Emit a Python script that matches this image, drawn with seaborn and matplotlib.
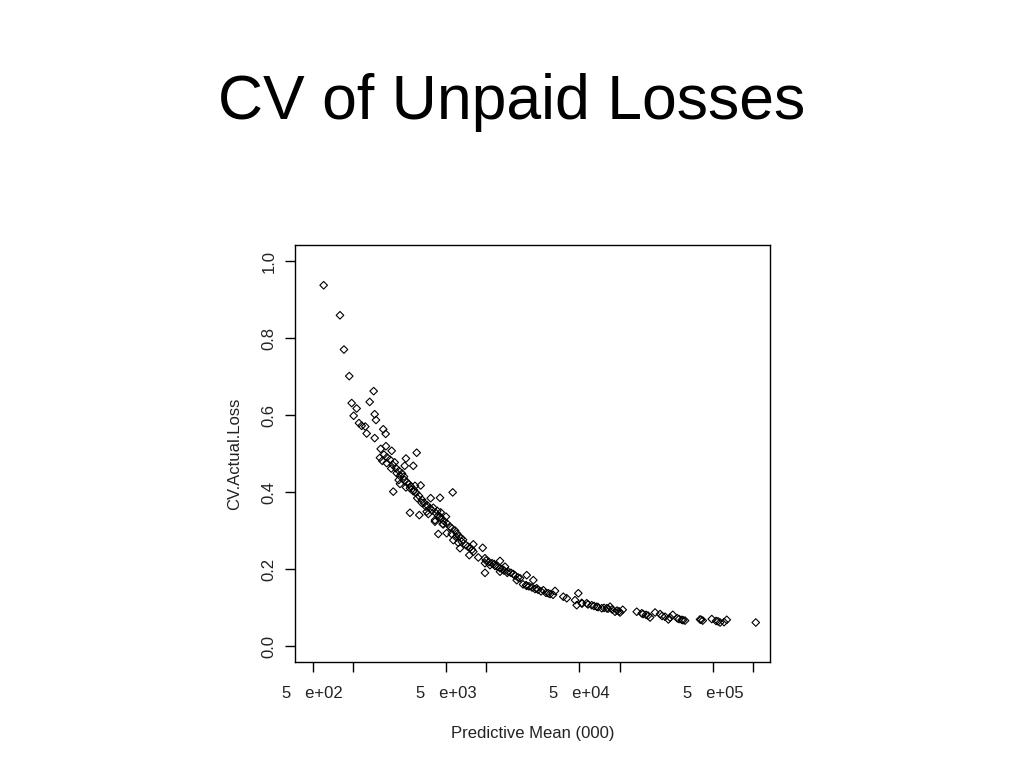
import numpy as np
import pandas as pd
import matplotlib
matplotlib.use("Agg")
import matplotlib.pyplot as plt
import seaborn as sns

# predictive mean (000) and CV of actual loss
pred_mean = [
    603, 799, 856, 938, 978, 1066, 1012, 1430, 1335, 1455, 1488, 1109, 1162, 1237, 1267, 1455, 1688, 1759,
    1768, 1614, 1952, 3005, 1594, 1659, 2498, 2055, 1790, 2443, 2834, 1938, 2128, 2253, 2413, 2203, 2443,
    2253, 2498, 2677, 2918, 3220, 2006, 2834, 3036, 3828, 4496, 5597, 3276, 3529, 4005, 2677, 3144, 3672,
    4291, 4496, 4985, 4124, 4710, 5343, 4366, 5046, 5501,
    3572, 4550, 4124, 4759,
    5655, 6168, 6540, 7989, 9397, 6351, 7457, 7989, 8710, 9778, 12670, 9778, 10660, 11623, 12670, 13813,
    9778, 12670, 14373, 15943, 16908, 20102, 22528, 20102, 23884, 26771, 29185, 32762, 37818, 40107,
    46283, 48996,
    47661, 51951, 56644, 61762, 67334, 73402, 80031, 84723, 92353, 100692, 105500, 134400, 146500,
    157800, 169100, 184400, 201000, 219100, 232000, 250300, 270900, 292300, 309500, 401000, 420200,
    490900, 528800, 566600, 607100, 635900, 1049600,
    5529, 5827, 6031, 6243, 6462, 6689, 5928,
    7043, 7291, 7547, 7811,
    9948, 10478, 11035, 11424, 12032, 13115, 13577, 14548, 15322, 16418, 17292, 17899,
    18857, 19860, 20917, 22028, 23199, 24427, 25728, 28048, 30055, 31650,
    52221, 57931, 64266, 68861, 76380, 81848, 87700, 95608, 98969,
    2542, 2632, 2724, 2869, 2969, 3127, 3293, 3409, 3591, 3782, 3915, 4196, 4343, 4574, 4817, 5072,
    1708, 1799, 1895, 1996, 2102, 2214, 2332,
    149800, 163300, 208000, 238800, 279000, 298900, 408000, 547400,
]
cv_loss = [
    0.937, 0.859, 0.770, 0.701, 0.631, 0.617, 0.598, 0.662, 0.634, 0.602, 0.587, 0.579, 0.572, 0.570, 0.552, 0.540, 0.563, 0.551,
    0.519, 0.512, 0.507, 0.502, 0.489, 0.481, 0.487, 0.477, 0.475, 0.468, 0.468, 0.461, 0.449, 0.442, 0.440, 0.431, 0.431,
    0.421, 0.412, 0.410, 0.416, 0.417, 0.401, 0.402, 0.384, 0.384, 0.385, 0.399, 0.372, 0.362, 0.359, 0.346, 0.340, 0.343,
    0.351, 0.336, 0.336, 0.327, 0.317, 0.310, 0.291, 0.293, 0.291,
    0.349, 0.347, 0.323, 0.316,
    0.275, 0.268, 0.271, 0.264, 0.255, 0.254, 0.236, 0.245, 0.230, 0.228, 0.221, 0.215, 0.210, 0.208, 0.202, 0.206,
    0.190, 0.193, 0.190, 0.187, 0.171, 0.184, 0.171, 0.156, 0.150, 0.145, 0.137, 0.143, 0.128, 0.124,
    0.119, 0.137,
    0.106, 0.112, 0.111, 0.106, 0.102, 0.098, 0.098, 0.102, 0.089, 0.087, 0.094, 0.089, 0.085,
    0.081, 0.074, 0.087, 0.083, 0.076, 0.069, 0.081, 0.072, 0.068, 0.066, 0.069, 0.066,
    0.070, 0.065, 0.061, 0.062, 0.068, 0.061,
    0.305, 0.300, 0.292, 0.285, 0.280, 0.276, 0.283,
    0.262, 0.258, 0.255, 0.250,
    0.222, 0.218, 0.215, 0.213, 0.207, 0.200, 0.196, 0.194, 0.190, 0.183, 0.178, 0.176,
    0.160, 0.158, 0.155, 0.152, 0.148, 0.146, 0.142, 0.138, 0.135, 0.133,
    0.110, 0.108, 0.104, 0.101, 0.099, 0.097, 0.095, 0.092, 0.090,
    0.425, 0.420, 0.414, 0.405, 0.398, 0.390, 0.380, 0.372, 0.366, 0.358, 0.352, 0.345, 0.338, 0.331, 0.325, 0.318,
    0.497, 0.490, 0.484, 0.470, 0.462, 0.455, 0.448,
    0.083, 0.079, 0.078, 0.074, 0.070, 0.067, 0.068, 0.064,
]

x_ticks = [500, 1000, 5000, 10000, 50000, 100000, 500000, 1000000]
x_tick_labels = ["5   e+02", "", "5   e+03", "", "5   e+04", "", "5   e+05", ""]
y_ticks = [0.0, 0.2, 0.4, 0.6, 0.8, 1.0]

df = pd.DataFrame({"pred_mean": pred_mean, "cv": cv_loss})

sns.set_style("ticks")
plt.rcParams["font.family"] = ["Liberation Sans", "DejaVu Sans"]

fig = plt.figure(figsize=(10.24, 7.68), dpi=100)
ax = fig.add_axes([0.288, 0.138, 0.464, 0.543])

sns.scatterplot(data=df, x="pred_mean", y="cv", ax=ax, marker="D", s=15,
                facecolors="none", edgecolor="black", linewidth=0.8)

ax.set_xscale("log")
ax.set_xlim(367, 1.343e6)
ax.set_ylim(-0.0416, 1.0416)
ax.set_xticks(x_ticks)
ax.set_xticklabels(x_tick_labels)
ax.minorticks_off()
ax.set_yticks(y_ticks)
ax.set_yticklabels([f"{v:.1f}" for v in y_ticks], rotation=90, va="center")

for s in ax.spines.values():
    s.set_visible(True)
    s.set_color("black")
    s.set_linewidth(1.0)
ax.tick_params(axis="both", length=7, width=1, color="black", labelsize=12,
               labelcolor="#222222")
ax.tick_params(axis="x", pad=10)
ax.tick_params(axis="y", pad=6)

ax.set_xlabel("Predictive Mean (000)", fontsize=12, color="#222222", labelpad=18)
ax.set_ylabel("CV.Actual.Loss", fontsize=12, color="#222222", labelpad=14)

fig.text(0.5, 0.867, "CV of Unpaid Losses", ha="center", va="center", fontsize=45, color="black")

fig.savefig("out.png", dpi=100, facecolor="white")
